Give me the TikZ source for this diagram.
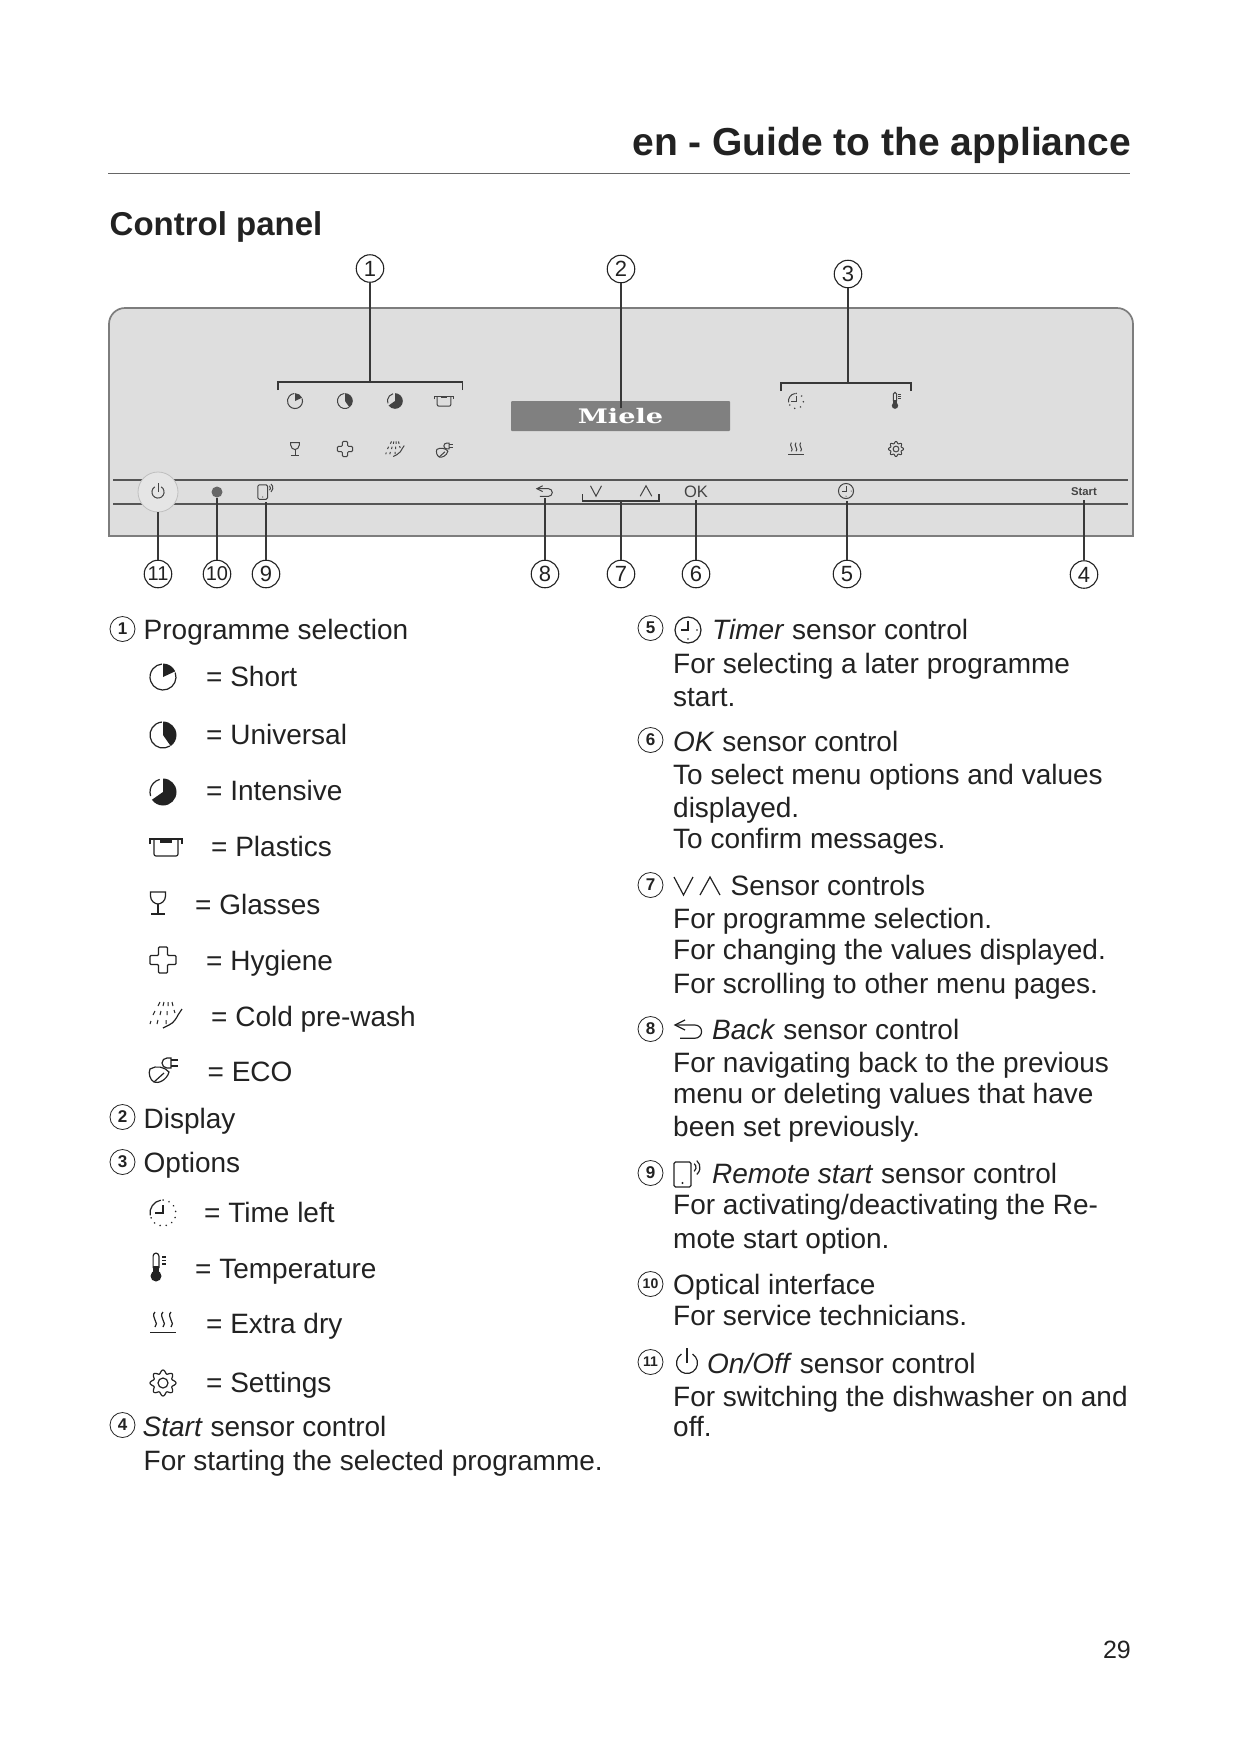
\documentclass[tikz,border=0pt]{standalone}
\usepackage{fontspec}
\usepackage{graphicx}
\setmainfont{Liberation Sans}
\newfontfamily\logofont{DejaVu Serif}
\usetikzlibrary{arrows.meta, positioning, calc}
\definecolor{ink}{RGB}{34,34,34}
\definecolor{panelgray}{RGB}{222,222,222}
\definecolor{edgegray}{RGB}{125,125,125}
\definecolor{railgray}{RGB}{85,85,85}
\definecolor{screengray}{RGB}{128,128,128}
\newcommand{\bodyfont}{\fontsize{28}{30}\selectfont}
\tikzset{
  % legend and panel symbols, drawn y up around their centre
  pics/shorticon/.style={code={
    \fill (0,0) -- (0,13.5) arc[start angle=90, end angle=25, radius=13.5] -- cycle;
    \draw (20:13) arc[start angle=20, end angle=-265, radius=13];
  }},
  pics/univicon/.style={code={
    \fill (0,0) -- (0,13.5) arc[start angle=90, end angle=-55, radius=13.5] -- cycle;
    \draw (-58:13) arc[start angle=-58, end angle=-265, radius=13];
  }},
  pics/intensicon/.style={code={
    \fill (0,0) -- (0,13.5) arc[start angle=90, end angle=-145, radius=13.5] -- cycle;
    \draw (198:13) arc[start angle=198, end angle=105, radius=13];
  }},
  pics/plasticon/.style={code={
    \draw (-16,3) -- (-16,8) -- (16,8) -- (16,3);
    \draw[rounded corners=2pt] (-12,8) -- (-12,-9) -- (12,-9) -- (12,8);
    \fill (-6,8) rectangle (6,4.5);
  }},
  pics/glassicon/.style={code={
    \draw (-7.5,11) -- (7.5,11) -- (7.5,7) .. controls (7.5,2) and (3,-1) .. (0,-1) .. controls (-3,-1) and (-7.5,2) .. (-7.5,7) -- cycle;
    \draw (0,-1) -- (0,-11);
    \draw (-7,-11) -- (7,-11);
  }},
  pics/plusicon/.style={code={
    \draw[rounded corners=1pt] (-4.5,13) -- (4.5,13) -- (4.5,4.5) -- (13,4.5) -- (13,-4.5) -- (4.5,-4.5) -- (4.5,-13) -- (-4.5,-13) -- (-4.5,-4.5) -- (-13,-4.5) -- (-13,4.5) -- (-4.5,4.5) -- cycle;
  }},
  pics/coldicon/.style={code={
    \draw (-3,-13) -- (3,-10) .. controls (8,-8) and (11,-2) .. (12,0) -- (16,6);
    \draw[line width=1pt] (-6,13) -- (-8,9) (-11,4) -- (-13,0) (-15,-6) -- (-16,-9)
      (-2,13) -- (-3,9) (-5,4) -- (-6,0) (-8,-5) -- (-9,-9)
      (2,13) -- (2,9) (1,4) -- (1,0) (0,-5) -- (0,-9)
      (6,13) -- (7,9) (8,5) -- (9,2);
  }},
  pics/ecoicon/.style={code={
    \draw (-14,1) .. controls (-8,5) and (1,3) .. (5,-2) .. controls (3,-10) and (-6,-14) .. (-10,-12) .. controls (-14,-10) and (-16,-3) .. (-14,1) -- cycle;
    \draw (-10,-12) -- (0,-3);
    \draw (7,12) -- (3,12) arc[start angle=90, end angle=270, radius=5] -- (7,2) -- cycle;
    \draw (7,10) -- (14,10) (7,4) -- (14,4);
  }},
  pics/lefticon/.style={code={
    \draw[line cap=round, dash pattern=on .2pt off 6pt, line width=1.6pt] (90:13) arc[start angle=90, end angle=-170, radius=13];
    \draw (190:13) arc[start angle=190, end angle=100, radius=13];
    \draw (0,8) -- (0,0) -- (-8,0);
  }},
  pics/thermoicon/.style={code={
    \fill (0,-8) circle[radius=5.5];
    \fill (-2.8,-8) rectangle (2.8,2);
    \draw (-2.9,0) -- (-2.9,12) arc[start angle=180, end angle=0, radius=2.9] -- (2.9,0);
    \draw (6,11) -- (10,11) (6,7.5) -- (10,7.5) (6,4) -- (10,4);
  }},
  pics/dryicon/.style={code={
    \draw (-13,-9.5) -- (13,-9.5);
    \draw (-8,-4) .. controls (-3,0) and (-13,6) .. (-8,11);
    \draw (0,-4) .. controls (5,0) and (-5,6) .. (0,11);
    \draw (8,-4) .. controls (13,0) and (3,6) .. (8,11);
  }},
  pics/gearicon/.style={code={
    \draw[domain=0:360, samples=97, smooth] plot ({(11.3+1.7*cos(8*\x))*cos(\x)},{(11.3+1.7*cos(8*\x))*sin(\x)});
    \draw (0,0) circle[radius=5];
  }},
  pics/timericon/.style={code={
    \draw (0,0) circle[radius=13];
    \draw (0,9) -- (0,0) -- (-7,0);
    \fill (9,0) circle[radius=.9] (0,-9) circle[radius=.9];
  }},
  pics/vicon/.style={code={\draw (-9.5,9) -- (0,-9) -- (9.5,9);}},
  pics/caricon/.style={code={\draw (-10,-9) -- (0,9) -- (10,-9);}},
  pics/backicon/.style={code={
    \draw (-4,9) -- (-14,4) -- (-4,-1);
    \draw (-14,4) -- (6,4) arc[start angle=90, end angle=-90, radius=6.6] -- (-9,-9.2);
  }},
  pics/remoteicon/.style={code={
    \draw[rounded corners=1.5pt] (-9,-12.5) rectangle (8,12.5);
    \fill (-.5,-8.5) circle[radius=1.1];
    \draw (8,7) ++(50:5) arc[start angle=50, end angle=-50, radius=5];
    \draw (8,7) ++(50:9) arc[start angle=50, end angle=-50, radius=9];
  }},
  pics/powericon/.style={code={
    \draw (58:10.5) arc[start angle=58, end angle=-238, radius=10.5];
    \draw (0,0) -- (0,15);
  }},
  % styles
  txt/.style={anchor=base west, inner sep=0pt, font=\bodyfont, text=ink},
  callout/.style={circle, draw=ink, line width=1.1pt, minimum size=27.5pt, inner sep=0pt, text=ink, font=\fontsize{22}{22}\selectfont},
  calloutw/.style={callout, font=\fontsize{20}{20}\selectfont},
  badge/.style={circle, draw=ink, line width=.8pt, minimum size=25pt, inner sep=0pt, text=ink, font=\fontsize{17}{17}\selectfont\bfseries},
  badgew/.style={badge, font=\fontsize{14}{14}\selectfont\bfseries},
  leader/.style={line width=1.1pt, ink!90},
  icon/.style={draw=ink, fill=ink, line width=1.2pt, yscale=-1},
  panelicon/.style={draw=ink!85, fill=ink!85, line width=1pt, scale=.58, yscale=-1}
}
\begin{document}
\begin{tikzpicture}[x=1pt, y=-1pt]
  \useasboundingbox (0,0) rectangle (1241,1754);
  \fill[white] (0,0) rectangle (1241,1754);

  % Page head
  \node[anchor=base east, inner sep=0pt, text=ink, font=\fontsize{39}{40}\selectfont\bfseries] (title) at (1131,155.5) {en - Guide to the appliance};
  \coordinate (ruleL) at (108,173.5);
  \coordinate (ruleR) at (1130,173.5);
  \draw[line width=1.7pt, black!60] (ruleL) -- (ruleR);
  \node[anchor=base west, inner sep=0pt, text=ink, font=\fontsize{33}{34}\selectfont\bfseries] (heading) at (109.5,235) {Control panel};

  % Panel body
  \draw[fill=panelgray, draw=edgegray, line width=1.7pt] (109,536) [rounded corners=16pt] -- (109,308) -- (1133,308) [sharp corners] -- (1133,536) -- cycle;
  \draw[line width=1.5pt, railgray] (113,480) -- (1128,480);
  \draw[line width=1.5pt, railgray] (113,504) -- (1128,504);

  % Display
  \node[fill=screengray, minimum width=219pt, minimum height=30pt, inner sep=0pt, text=white, rounded corners=1pt, font=\logofont\bfseries\fontsize{20}{20}\selectfont] (display) at (620.5,416) {\scalebox{1.36}[1]{Miele}};

  % Panel symbols
  \pic[panelicon] at (295,401) {shorticon};
  \pic[panelicon] at (345,401) {univicon};
  \pic[panelicon] at (395,401) {intensicon};
  \pic[panelicon] at (444,401) {plasticon};
  \pic[panelicon] at (295,449) {glassicon};
  \pic[panelicon] at (345,449) {plusicon};
  \pic[panelicon] at (395,449) {coldicon};
  \pic[panelicon] at (445,450) {ecoicon};
  \pic[panelicon] at (796,401) {lefticon};
  \pic[panelicon] at (895,401) {thermoicon};
  \pic[panelicon] at (796,449) {dryicon};
  \pic[panelicon] at (896,449) {gearicon};

  % Sensor row
  \node[circle, minimum size=40pt, inner sep=0pt, fill=black!10, draw=black!25, line width=.8pt] (onoff) at (158,492) {};
  \pic[panelicon] at (158,492) {powericon};
  \node[circle, minimum size=11pt, inner sep=0pt, fill=black!60] (optical) at (217,492) {};
  \pic[panelicon] at (263,492) {remoteicon};
  \pic[panelicon] at (545,491) {backicon};
  \pic[panelicon] at (596,491) {vicon};
  \pic[panelicon] at (646,491) {caricon};
  \node[inner sep=0pt, text=ink!85, font=\fontsize{16.5}{17}\selectfont] (oksensor) at (696,492) {OK};
  \pic[panelicon] at (846,491) {timericon};
  \node[inner sep=0pt, text=ink!85, font=\fontsize{11.3}{12}\selectfont\bfseries] (startsensor) at (1084,492) {Start};

  % Callouts
  \node[callout] (c1) at (370,268.5) {1};
  \node[callout] (c2) at (621,269) {2};
  \node[callout] (c3) at (848,274) {3};
  \node[callout] (c4) at (1084,574.5) {4};
  \node[callout] (c5) at (847,574) {5};
  \node[callout] (c6) at (696,574) {6};
  \node[callout] (c7) at (621,574) {7};
  \node[callout] (c8) at (545,574) {8};
  \node[callout] (c9) at (266,574) {9};
  \node[calloutw] (c10) at (217,574) {10};
  \node[calloutw] (c11) at (158,574) {11};

  % Leader ends and brackets
  \coordinate (brk1) at (370,382);
  \coordinate (brk1L) at (278,390);
  \coordinate (brk1R) at (462.5,390);
  \coordinate (brk3) at (848,383);
  \coordinate (brk3L) at (781,391);
  \coordinate (brk3R) at (911,391);
  \coordinate (brk7) at (621,501);
  \coordinate (brk7L) at (582.5,494);
  \coordinate (brk7R) at (659,494);
  \coordinate (end2) at (621,408);
  \coordinate (end4) at (1084,500);
  \coordinate (end5) at (847,501);
  \coordinate (end6) at (696,500);
  \coordinate (end8) at (545,498);
  \coordinate (end9) at (266,502);
  \coordinate (end11) at (158,512);
  \draw[leader] (brk1L) |- (brk1);
  \draw[leader] (brk1R) |- (brk1);
  \draw[leader] (brk3L) |- (brk3);
  \draw[leader] (brk3R) |- (brk3);
  \draw[leader] (brk7L) |- (brk7);
  \draw[leader] (brk7R) |- (brk7);
  \draw[leader] (c1) -- (brk1);
  \draw[leader] (c2) -- (end2);
  \draw[leader] (c3) -- (brk3);
  \draw[leader] (c4) -- (end4);
  \draw[leader] (c5) -- (end5);
  \draw[leader] (c6) -- (end6);
  \draw[leader] (c7) -- (brk7);
  \draw[leader] (c8) -- (end8);
  \draw[leader] (c9) -- (end9);
  \draw[leader] (c10) -- (optical);
  \draw[leader] (c11) -- (end11);

  % Left column
  \node[badge] (l1) at (122.5,629) {1};
  \node[txt] (progsel) at (143.5,639) {Programme selection};
  \pic[icon] at (163,677) {shorticon};
  \node[txt] (short) at (206,686) {= Short};
  \pic[icon] at (163,735) {univicon};
  \node[txt] (universal) at (206,744) {= Universal};
  \pic[icon] at (163,792) {intensicon};
  \node[txt] (intensive) at (206,800) {= Intensive};
  \pic[icon] at (166,847) {plasticon};
  \node[txt] (plastics) at (211,856) {= Plastics};
  \pic[icon] at (158,903) {glassicon};
  \node[txt] (glasses) at (195,914) {= Glasses};
  \pic[icon] at (163,960) {plusicon};
  \node[txt] (hygiene) at (206,970) {= Hygiene};
  \pic[icon] at (166,1015) {coldicon};
  \node[txt] (cold) at (211,1026) {= Cold pre-wash};
  \pic[icon] at (164,1070) {ecoicon};
  \node[txt] (eco) at (207.5,1081) {= ECO};
  \node[badge] (l2) at (122.5,1117) {2};
  \node[txt] (displaytxt) at (143.5,1128) {Display};
  \node[badge] (l3) at (122.5,1162) {3};
  \node[txt] (options) at (143.5,1172) {Options};
  \pic[icon] at (163,1213) {lefticon};
  \node[txt] (timeleft) at (204,1222) {= Time left};
  \pic[icon] at (156,1268) {thermoicon};
  \node[txt] (temp) at (195,1278) {= Temperature};
  \pic[icon] at (163,1323) {dryicon};
  \node[txt] (extradry) at (206,1333) {= Extra dry};
  \pic[icon] at (163,1383) {gearicon};
  \node[txt] (settings) at (206,1392) {= Settings};
  \node[badge] (l4) at (122.5,1425) {4};
  \node[txt] (starthead) at (142.5,1436) {\textit{Start} sensor control};
  \node[txt] (startline) at (143.5,1470) {For starting the selected programme.};

  % Right column
  \node[badge] (l5) at (650.5,628) {5};
  \pic[icon] at (688,630) {timericon};
  \node[txt] (timerhead) at (712,639) {\textit{Timer} sensor control};
  \node[txt] (timerA) at (673,673) {For selecting a later programme};
  \node[txt] (timerB) at (673,706) {start.};
  \node[badge] (l6) at (650.5,740) {6};
  \node[txt] (okhead) at (673,751) {\textit{OK} sensor control};
  \node[txt] (okA) at (673,784) {To select menu options and values};
  \node[txt] (okB) at (673,817) {displayed.};
  \node[txt] (okC) at (673,848) {To confirm messages.};
  \node[badge] (l7) at (650.5,885) {7};
  \pic[icon] at (683.5,886) {vicon};
  \pic[icon] at (710,886) {caricon};
  \node[txt] (sensorhead) at (730.5,895) {Sensor controls};
  \node[txt] (sensorA) at (673,928) {For programme selection.};
  \node[txt] (sensorB) at (673,959) {For changing the values displayed.};
  \node[txt] (sensorC) at (673,993) {For scrolling to other menu pages.};
  \node[badge] (l8) at (650.5,1029) {8};
  \pic[icon] at (689,1029) {backicon};
  \node[txt] (backhead) at (712,1039) {\textit{Back} sensor control};
  \node[txt] (backA) at (673,1072) {For navigating back to the previous};
  \node[txt] (backB) at (673,1103) {menu or deleting values that have};
  \node[txt] (backC) at (673,1136) {been set previously.};
  \node[badge] (l9) at (650.5,1173) {9};
  \pic[icon] at (683,1174.5) {remoteicon};
  \node[txt] (remotehead) at (712,1183) {\textit{Remote start} sensor control};
  \node[txt] (remoteA) at (673,1214) {For activating/deactivating the Re-};
  \node[txt] (remoteB) at (673,1248) {mote start option.};
  \node[badgew] (l10) at (650.5,1284) {10};
  \node[txt] (opticalhead) at (673,1294) {Optical interface};
  \node[txt] (opticalA) at (673,1325) {For service technicians.};
  \node[badgew] (l11) at (650.5,1362) {11};
  \pic[icon] at (687,1363) {powericon};
  \node[txt] (onoffhead) at (707,1373) {\textit{On/Off} sensor control};
  \node[txt] (onoffA) at (673,1406) {For switching the dishwasher on and};
  \node[txt] (onoffB) at (673,1436) {off.};

  % Page number
  \node[anchor=base east, inner sep=0pt, text=ink, font=\fontsize{25}{26}\selectfont] (pageno) at (1131,1658) {29};
\end{tikzpicture}
\end{document}
